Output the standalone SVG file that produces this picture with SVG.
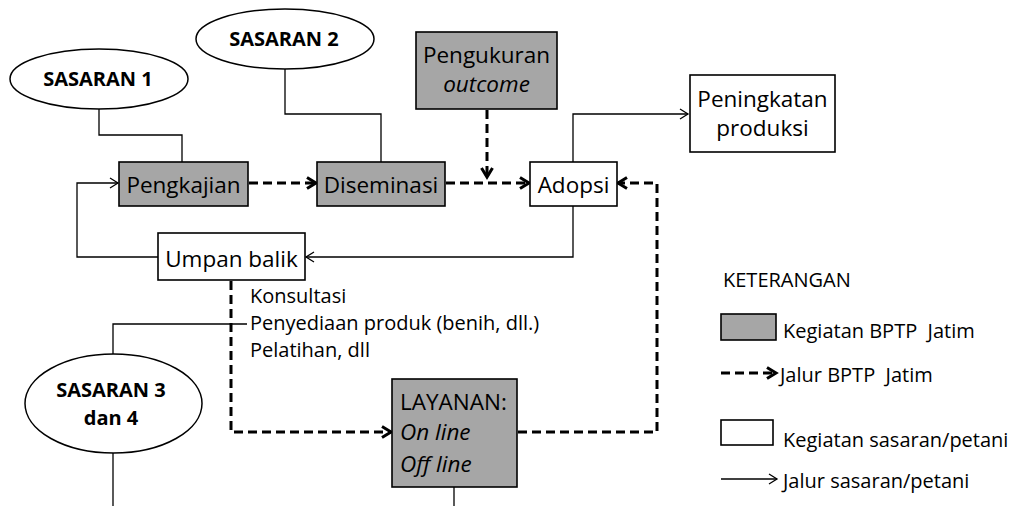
<svg xmlns="http://www.w3.org/2000/svg" width="1010" height="506" viewBox="0 0 1010 506">
<defs>
<style>
text{font-family:"Open Sans","Noto Sans","Liberation Sans",sans-serif;fill:#000}
.box{stroke:#000;stroke-width:1.6}
.g{fill:#a6a6a6}
.w{fill:#fff}
.ell{fill:#fff;stroke:#000;stroke-width:1.5}
.t{font-size:22.5px;text-anchor:middle}
.tl{font-size:22.5px}
.s{font-size:20px}
.pre{white-space:pre}
.b{font-size:20px;font-weight:bold;text-anchor:middle}
.sol{fill:none;stroke:#000;stroke-width:1.3}
.dash{fill:none;stroke:#000;stroke-width:3;stroke-dasharray:9 5}
</style>
<marker id="ad" viewBox="0 0 14 14" refX="11" refY="7" markerWidth="14" markerHeight="14" markerUnits="userSpaceOnUse" orient="auto">
<path d="M2,1.5 L11,7 L2,12.5" fill="none" stroke="#000" stroke-width="3"/>
</marker>
<marker id="as" viewBox="0 0 12 12" refX="10" refY="6" markerWidth="12" markerHeight="12" markerUnits="userSpaceOnUse" orient="auto">
<path d="M2,1 L10,6 L2,11" fill="none" stroke="#000" stroke-width="1.3"/>
</marker>
</defs>
<rect width="1010" height="506" fill="#fff"/>

<g id="connectors">
<polyline class="sol" points="99,109 99,135 182,135 182,162"/>
<polyline class="sol" points="285,68 285,114 381,114 381,162"/>
<polyline class="sol" points="573,162 573,114 688,114" marker-end="url(#as)"/>
<polyline class="sol" points="573,206 573,257 306,257" marker-end="url(#as)"/>
<polyline class="sol" points="158,257 77,257 77,183 118,183" marker-end="url(#as)"/>
<polyline class="sol" points="113,354 113,324 247,324"/>
<line class="sol" x1="113" y1="453" x2="113" y2="506"/>
<line class="sol" x1="454" y1="487" x2="454" y2="506"/>
<line class="dash" x1="249" y1="183" x2="316" y2="183" marker-end="url(#ad)"/>
<line class="dash" x1="446" y1="183" x2="529" y2="183" marker-end="url(#ad)"/>
<line class="dash" x1="487" y1="110" x2="487" y2="177" marker-end="url(#ad)"/>
<polyline class="dash" points="231,281 231,432 391,432" marker-end="url(#ad)"/>
<polyline class="dash" points="518,432 657,432 657,183 618,183" marker-end="url(#ad)"/>
</g>

<g id="sasaran1">
<ellipse class="ell" cx="99" cy="79" rx="89" ry="30"/>
<text class="b" x="98" y="86">SASARAN 1</text>
</g>
<g id="sasaran2">
<ellipse class="ell" cx="285" cy="39" rx="89" ry="30"/>
<text class="b" x="284" y="46">SASARAN 2</text>
</g>
<g id="sasaran34">
<ellipse class="ell" cx="113.5" cy="403.5" rx="88.5" ry="49.5"/>
<text class="b" x="111" y="397">SASARAN 3</text>
<text class="b" x="111" y="425">dan 4</text>
</g>
<g id="pengkajian">
<rect class="box g" x="119" y="162" width="129" height="44"/>
<text class="t" x="183.5" y="193">Pengkajian</text>
</g>
<g id="diseminasi">
<rect class="box g" x="317" y="162" width="128" height="44"/>
<text class="t" x="381" y="193">Diseminasi</text>
</g>
<g id="pengukuran">
<rect class="box g" x="416" y="32" width="141" height="77"/>
<text class="t" x="486.5" y="63">Pengukuran</text>
<text class="t" x="486.5" y="92" font-style="italic">outcome</text>
</g>
<g id="adopsi">
<rect class="box w" x="530" y="162" width="87" height="44"/>
<text class="t" x="573.5" y="193">Adopsi</text>
</g>
<g id="peningkatan">
<rect class="box w" x="690" y="75" width="145" height="77"/>
<text class="t" x="762.5" y="107">Peningkatan</text>
<text class="t" x="762.5" y="136">produksi</text>
</g>
<g id="umpanbalik">
<rect class="box w" x="158" y="233" width="147" height="47"/>
<text class="t" x="231.5" y="267">Umpan balik</text>
</g>
<g id="layanan-label">
<text class="s" x="250" y="303">Konsultasi</text>
<text class="s" x="250" y="330">Penyediaan produk (benih, dll.)</text>
<text class="s" x="250" y="357">Pelatihan, dll</text>
</g>
<g id="layanan">
<rect class="box g" x="392" y="379" width="125" height="108"/>
<text class="tl" x="400" y="410">LAYANAN:</text>
<text class="tl" x="400" y="440" font-style="italic">On line</text>
<text class="tl" x="400" y="472" font-style="italic">Off line</text>
</g>
<g id="legend">
<text class="s" x="723" y="287">KETERANGAN</text>
<rect class="box g" x="721" y="314" width="55" height="26"/>
<text class="s pre" x="783" y="338">Kegiatan BPTP  Jatim</text>
<line class="dash" x1="721" y1="373" x2="776" y2="373" marker-end="url(#ad)"/>
<text class="s pre" x="780" y="382">Jalur BPTP  Jatim</text>
<rect class="box w" x="721" y="420" width="52" height="25"/>
<text class="s" x="783" y="447">Kegiatan sasaran/petani</text>
<line class="sol" x1="721" y1="479" x2="777" y2="479" marker-end="url(#as)"/>
<text class="s" x="783" y="488">Jalur sasaran/petani</text>
</g>
</svg>
